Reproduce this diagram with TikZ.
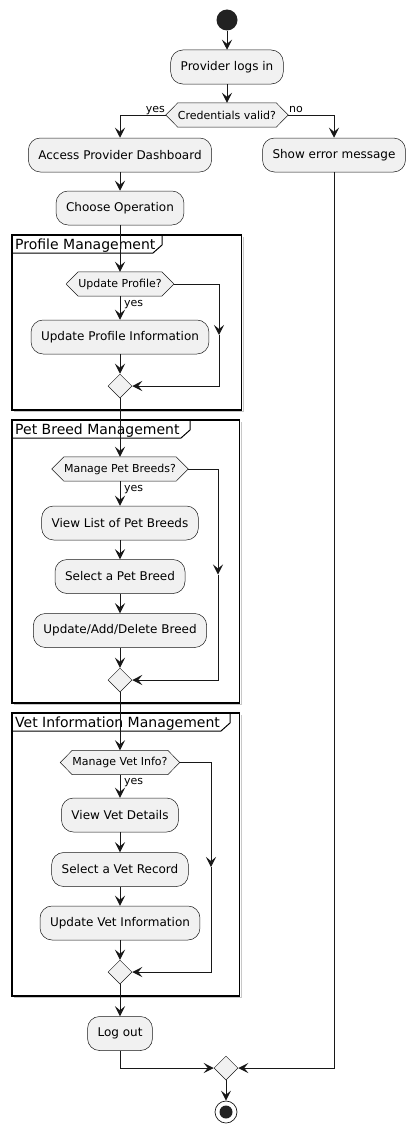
\documentclass[tikz,border=0pt]{standalone}
\usepackage{fontspec}
\setmainfont{DejaVu Sans}
\usetikzlibrary{arrows.meta,shapes.geometric,backgrounds}
\definecolor{fillc}{HTML}{F1F1F1}
\definecolor{linec}{HTML}{181818}
\definecolor{dotc}{HTML}{222222}
\definecolor{shadowc}{HTML}{C8C8C8}
\tikzset{
 act/.style={draw=linec, line width=0.5pt, fill=fillc, rounded corners=12pt, minimum height=34pt, inner xsep=10pt, inner ysep=0pt, font=\fontsize{12}{14}\selectfont},
 hexbox/.style={minimum height=24pt, inner xsep=12pt, inner ysep=0pt, font=\fontsize{11}{13}\selectfont},
 hexline/.style={draw=linec, line width=0.5pt, fill=fillc},
 merge/.style={diamond, draw=linec, line width=0.5pt, fill=fillc, minimum width=24pt, minimum height=24pt, inner sep=0pt},
 arr/.style={draw=linec, line width=1pt, -{Stealth[length=10pt,width=10pt,inset=4pt]}},
 lbl/.style={font=\fontsize{11}{13}\selectfont, inner sep=0pt},
 frameline/.style={draw=black, line width=1.5pt},
 tabline/.style={draw=black, line width=1pt},
 ftitle/.style={font=\fontsize{14}{16}\selectfont, inner sep=0pt, anchor=base west},
}
\newcommand{\hexshape}[1]{%
 \begin{scope}[on background layer]
 \path[hexline] (#1.west) -- ([xshift=12pt]#1.north west) -- ([xshift=-12pt]#1.north east) -- (#1.east) -- ([xshift=-12pt]#1.south east) -- ([xshift=12pt]#1.south west) -- cycle;
 \end{scope}}
\newcommand{\umlframe}[7]{%
 \draw[shadowc, line width=1pt] (#1+2,#4+1.5) -- (#3+1.5,#4+1.5) -- (#3+1.5,#2+2);
 \draw[frameline] (#1,#2) rectangle (#3,#4);
 \draw[tabline] (#1,#2+18) -- (#5-9,#2+18) -- (#5,#2+10) -- (#5,#2);
 \node[ftitle] (#7) at (#1+3,#2+14) {#6};}
\begin{document}
\begin{tikzpicture}[x=1pt,y=-1pt]
\useasboundingbox (0,0) rectangle (415,1132);
\umlframe{12}{235}{241.5}{410}{162}{Profile Management}{f1}
\umlframe{12}{420}{239.5}{703}{190}{Pet Breed Management}{f2}
\umlframe{12}{713}{239.5}{996}{230}{Vet Information Management}{f3}

\node[circle, fill=dotc, minimum size=21pt, inner sep=0pt] (start) at (227,20) {};
\node[act] (login) at (227,67) {Provider logs in};
\node[hexbox] (cred) at (227,115) {Credentials valid?}; \hexshape{cred}
\node[act] (access) at (120,155) {Access Provider Dashboard};
\node[act] (error) at (334,155) {Show error message};
\node[act] (choose) at (120,208) {Choose Operation};

\node[hexbox] (uprof) at (120,284) {Update Profile?}; \hexshape{uprof}
\node[act] (upinfo) at (120,337) {Update Profile Information};
\node[merge] (m1) at (120,386) {};

\node[hexbox] (mpb) at (120,469) {Manage Pet Breeds?}; \hexshape{mpb}
\node[act] (view) at (120,523) {View List of Pet Breeds};
\node[act] (selb) at (120,576.5) {Select a Pet Breed};
\node[act] (uad) at (120,630.5) {Update/Add/Delete Breed};
\node[merge] (m2) at (120,680) {};

\node[hexbox] (mvi) at (120,762.5) {Manage Vet Info?}; \hexshape{mvi}
\node[act] (vvd) at (120,815) {View Vet Details};
\node[act] (svr) at (120,869.5) {Select a Vet Record};
\node[act] (uvi) at (120,923) {Update Vet Information};
\node[merge] (m3) at (120,972) {};

\node[act] (logout) at (120,1033.5) {Log out};
\node[merge] (m4) at (226,1068) {};
\node[circle, draw=linec, line width=0.7pt, fill=white, minimum size=22pt, inner sep=0pt] (stop) at (226,1112) {};
\node[circle, fill=dotc, minimum size=13pt, inner sep=0pt] (stopin) at (226,1112) {};

\draw[arr] (start) -- (login);
\draw[arr] (login) -- (cred);
\draw[arr] (cred.west) -| (access.north);
\draw[arr] (cred.east) -| (error.north);
\node[lbl, anchor=base east] (lyes0) at (165,112) {yes};
\node[lbl, anchor=base west] (lno0) at (289,112) {no};
\draw[arr] (access) -- (choose);
\draw[arr] (choose) -- (uprof);

\draw[arr] (uprof) -- (upinfo);
\node[lbl, anchor=base west] (lyes1) at (124,306) {yes};
\coordinate (r1) at (219,335);
\draw[arr] (uprof.east) -| (r1);
\draw[arr] (r1) |- (m1.east);
\draw[arr] (upinfo) -- (m1);
\draw[arr] (m1) -- (mpb);

\draw[arr] (mpb) -- (view);
\node[lbl, anchor=base west] (lyes2) at (124,491) {yes};
\coordinate (r2) at (218,574.5);
\draw[arr] (mpb.east) -| (r2);
\draw[arr] (r2) |- (m2.east);
\draw[arr] (view) -- (selb);
\draw[arr] (selb) -- (uad);
\draw[arr] (uad) -- (m2);
\draw[arr] (m2) -- (mvi);

\draw[arr] (mvi) -- (vvd);
\node[lbl, anchor=base west] (lyes3) at (124,784.5) {yes};
\coordinate (r3) at (211,867);
\draw[arr] (mvi.east) -| (r3);
\draw[arr] (r3) |- (m3.east);
\draw[arr] (vvd) -- (svr);
\draw[arr] (svr) -- (uvi);
\draw[arr] (uvi) -- (m3);
\draw[arr] (m3) -- (logout);

\draw[arr] (logout.south) |- (m4.west);
\draw[arr] (error.south) |- (m4.east);
\draw[arr] (m4) -- (stop);
\end{tikzpicture}
\end{document}
